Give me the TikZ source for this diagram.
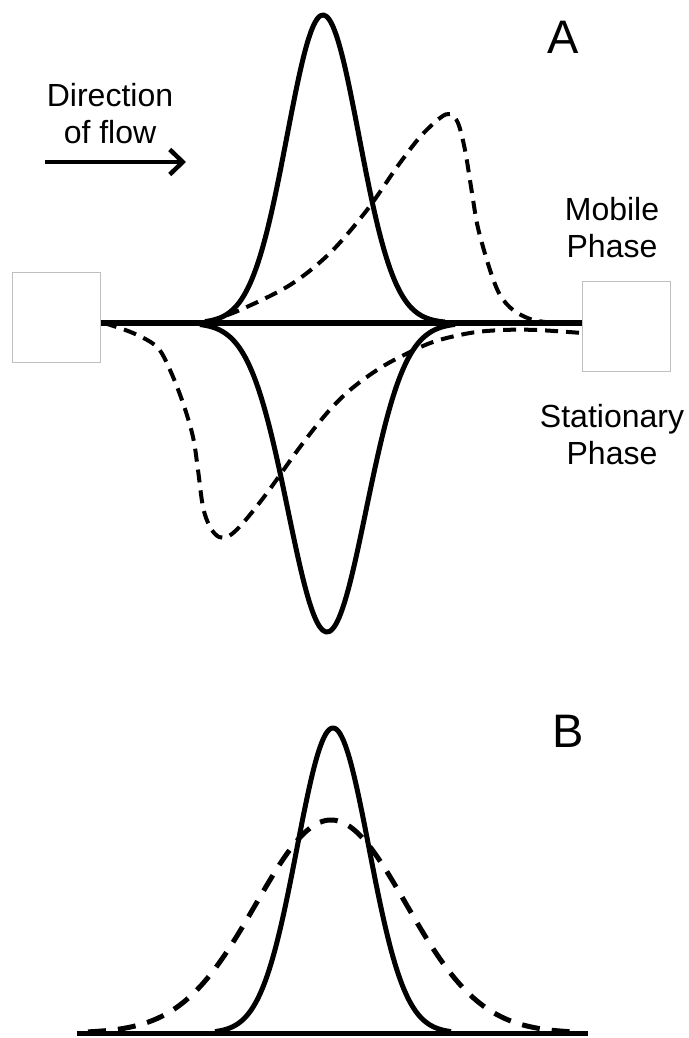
\documentclass[tikz,border=0pt]{standalone}
\usepackage{fontspec}
\setmainfont{Liberation Sans}
\usetikzlibrary{arrows.meta}
\tikzset{
  lbl/.style={align=center, font=\fontsize{32}{37}\selectfont, inner sep=0pt},
  big/.style={font=\fontsize{47}{50}\selectfont, inner sep=0pt},
  colbox/.style={draw=black!25, fill=white, line width=1pt, minimum width=88pt, minimum height=90pt, inner sep=0pt},
  axis/.style={line width=6pt},
  solidA/.style={line width=5pt, line join=round},
  dashA/.style={line width=4pt, dash pattern=on 13pt off 8pt, line join=round},
  solidB/.style={line width=5pt, line join=round},
  dashB/.style={line width=5pt, dash pattern=on 18pt off 12pt, line join=round},
}
\begin{document}
\begin{tikzpicture}[x=1pt,y=-1pt]
\useasboundingbox (0,0) rectangle (688,1038);

% ---- Part A ----
\node[colbox] (lbox) at (56,317.5) {};
\node[colbox] (rbox) at (626,326) {};

% solid upper (mobile phase)
\draw[solidA] plot[domain=205:445, samples=80, smooth] (\x, {323-308*exp(-0.5*((\x-323)/36)^2)});
% solid lower (stationary phase)
\draw[solidA] plot[domain=200:455, samples=80, smooth] (\x, {323+309*exp(-0.5*((\x-327)/39)^2)});

% dashed upper
\draw[dashA] plot[smooth, tension=0.55] coordinates {(207,322) (240,310) (290,285) (330,253) (367,210) (397,167) (420,137) (440,118) (450,114) (458,123) (465,150) (472,193) (478,228) (490,270) (500,295) (513,310) (530,319) (545,322)};
% dashed lower
\draw[dashA] plot[smooth, tension=0.55] coordinates {(104,323) (133,333) (157,347) (170,370) (183,403) (193,437) (198,470) (203,507) (210,527) (219,537) (229,536) (243,523) (267,493) (300,447) (327,413) (350,390) (377,370) (400,357) (433,342) (470,333) (503,330) (537,330) (582,333)};

% baseline
\draw[axis] (lbox.east) ++(0,5.5) coordinate (bl) (bl) -- (bl -| rbox.west);

% labels
\node[big] (A) at (563,37) {A};
\node[lbl] (dir) at (110,114) {Direction\\of flow};
\coordinate (fa) at (45,162);
\coordinate (fb) at (186,162);
\draw[line width=4.5pt, -{Straight Barb[length=13pt,width=25pt,line width=4.5pt]}] (fa) -- (fb);
\node[lbl] (mob) at (612,228) {Mobile\\Phase};
\node[lbl] (sta) at (612,435) {Stationary\\Phase};

% ---- Part B ----
\node[big] (B) at (568,731) {B};
\draw[solidB] plot[domain=215:451, samples=80, smooth] (\x, {1033-305*exp(-0.5*((\x-333)/36)^2)});
\draw[dashB] plot[domain=88:576, samples=100, smooth] (\x, {1033-213*exp(-0.5*((\x-331)/75)^2)});
\coordinate (b0) at (77,1033);
\coordinate (b1) at (588,1033);
\draw[line width=5pt] (b0) -- (b1);
\end{tikzpicture}
\end{document}
